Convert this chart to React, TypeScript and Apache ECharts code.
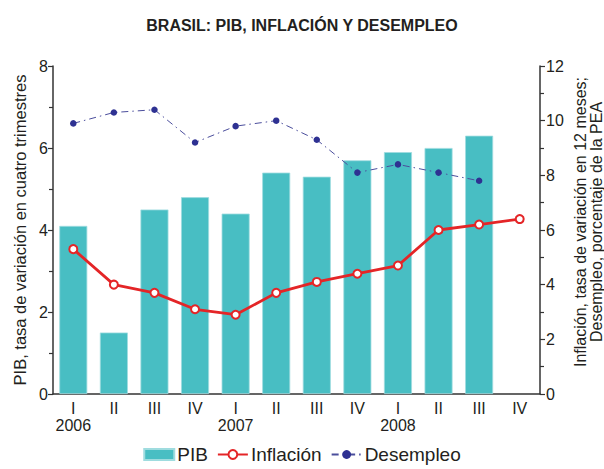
import React, { useEffect, useRef } from "react";
import * as echarts from "echarts";

const quarters = ["I\n2006", "II", "III", "IV", "I\n2007", "II", "III", "IV", "I\n2008", "II", "III", "IV"];
const pib = [4.1, 1.5, 4.5, 4.8, 4.4, 5.4, 5.3, 5.7, 5.9, 6.0, 6.3, null];
const inflacion = [5.3, 4.0, 3.7, 3.1, 2.9, 3.7, 4.1, 4.4, 4.7, 6.0, 6.2, 6.4];
const desempleo = [9.9, 10.3, 10.4, 9.2, 9.8, 10.0, 9.3, 8.1, 8.4, 8.1, 7.8, null];
const rightNameLines = ["Inflación, tasa de variación en 12 meses;", "Desempleo, porcentaje de la PEA"];

const FONT = "'Liberation Sans', Arial, Helvetica, sans-serif";
const TXT = "#231f20";

export default function App() {
  const ref = useRef<HTMLDivElement>(null);
  useEffect(() => {
    if (!ref.current) return;
    const chart = echarts.init(ref.current, null, { renderer: "svg" });
    chart.setOption({
      animation: false,
      textStyle: { fontFamily: FONT, color: TXT },
      title: {
        text: "BRASIL: PIB, INFLACIÓN Y DESEMPLEO",
        left: "center",
        top: 12,
        textStyle: { fontFamily: FONT, fontSize: 16, fontWeight: "bold", color: TXT },
      },
      legend: {
        bottom: 0,
        left: "center",
        itemGap: 9,
        itemWidth: 30,
        itemHeight: 11,
        textStyle: { fontFamily: FONT, fontSize: 19, color: TXT, padding: [0, 0, 0, -2] },
        data: [
          { name: "PIB", icon: "rect" },
          { name: "Inflación" },
          { name: "Desempleo" },
        ],
      },
      graphic: rightNameLines.map((t, i) => ({
        type: "text",
        x: 580 + i * 16,
        y: 222,
        rotation: Math.PI / 2,
        style: {
          text: t,
          fontFamily: FONT,
          fontSize: 16,
          fill: TXT,
          align: "center",
          verticalAlign: "middle",
        },
      })),
      grid: { left: 53, right: 64, top: 66, bottom: 75, containLabel: false, outerBoundsMode: "none" },
      xAxis: {
        type: "category",
        data: quarters,
        axisLine: { lineStyle: { color: "#333", width: 1.5 } },
        axisTick: { show: false },
        axisLabel: { interval: 0, fontFamily: FONT, fontSize: 16, color: TXT, margin: 6, lineHeight: 17 },
      },
      yAxis: [
        {
          type: "value",
          min: 0,
          max: 8,
          interval: 2,
          name: "PIB, tasa de variación en cuatro trimestres",
          nameLocation: "middle",
          nameGap: 25,
          nameTextStyle: { fontFamily: FONT, fontSize: 16.5, color: TXT },
          axisLine: { show: true, lineStyle: { color: "#333", width: 1.5 } },
          axisTick: { show: true, length: 5, lineStyle: { color: "#333", width: 1.2 } },
          minorTick: { show: true, splitNumber: 2, length: 4, lineStyle: { color: "#333", width: 1.2 } },
          splitLine: { show: false },
          axisLabel: { fontFamily: FONT, fontSize: 16, color: TXT, margin: 5 },
        },
        {
          type: "value",
          min: 0,
          max: 12,
          interval: 2,
          position: "right",
          axisLine: { show: true, lineStyle: { color: "#333", width: 1.5 } },
          axisTick: { show: true, length: 5, lineStyle: { color: "#333", width: 1.2 } },
          minorTick: { show: true, splitNumber: 2, length: 4, lineStyle: { color: "#333", width: 1.2 } },
          splitLine: { show: false },
          axisLabel: { fontFamily: FONT, fontSize: 16, color: TXT, margin: 6 },
        },
      ],
      series: [
        {
          name: "PIB",
          type: "bar",
          data: pib,
          yAxisIndex: 0,
          barWidth: 28,
          itemStyle: { color: "#48bec3", borderColor: "#9fdcdf", borderWidth: 0.8 },
        },
        {
          name: "Inflación",
          type: "line",
          data: inflacion,
          yAxisIndex: 1,
          symbol: "emptyCircle",
          symbolSize: 8,
          color: "#e42527",
          lineStyle: { color: "#e42527", width: 2.8 },
          itemStyle: { color: "#e42527", borderColor: "#e42527", borderWidth: 2.5 },
        },
        {
          name: "Desempleo",
          type: "line",
          data: desempleo,
          yAxisIndex: 1,
          symbol: "circle",
          symbolSize: 6.5,
          color: "#2e3192",
          lineStyle: { color: "#4b4e9c", width: 1, type: [7, 4, 1.5, 4] },
          itemStyle: { color: "#2e3192" },
        },
      ],
    });
    return () => chart.dispose();
  }, []);
  return <div ref={ref} style={{ width: 604, height: 469, position: "absolute", left: 0, top: 0 }} />;
}
